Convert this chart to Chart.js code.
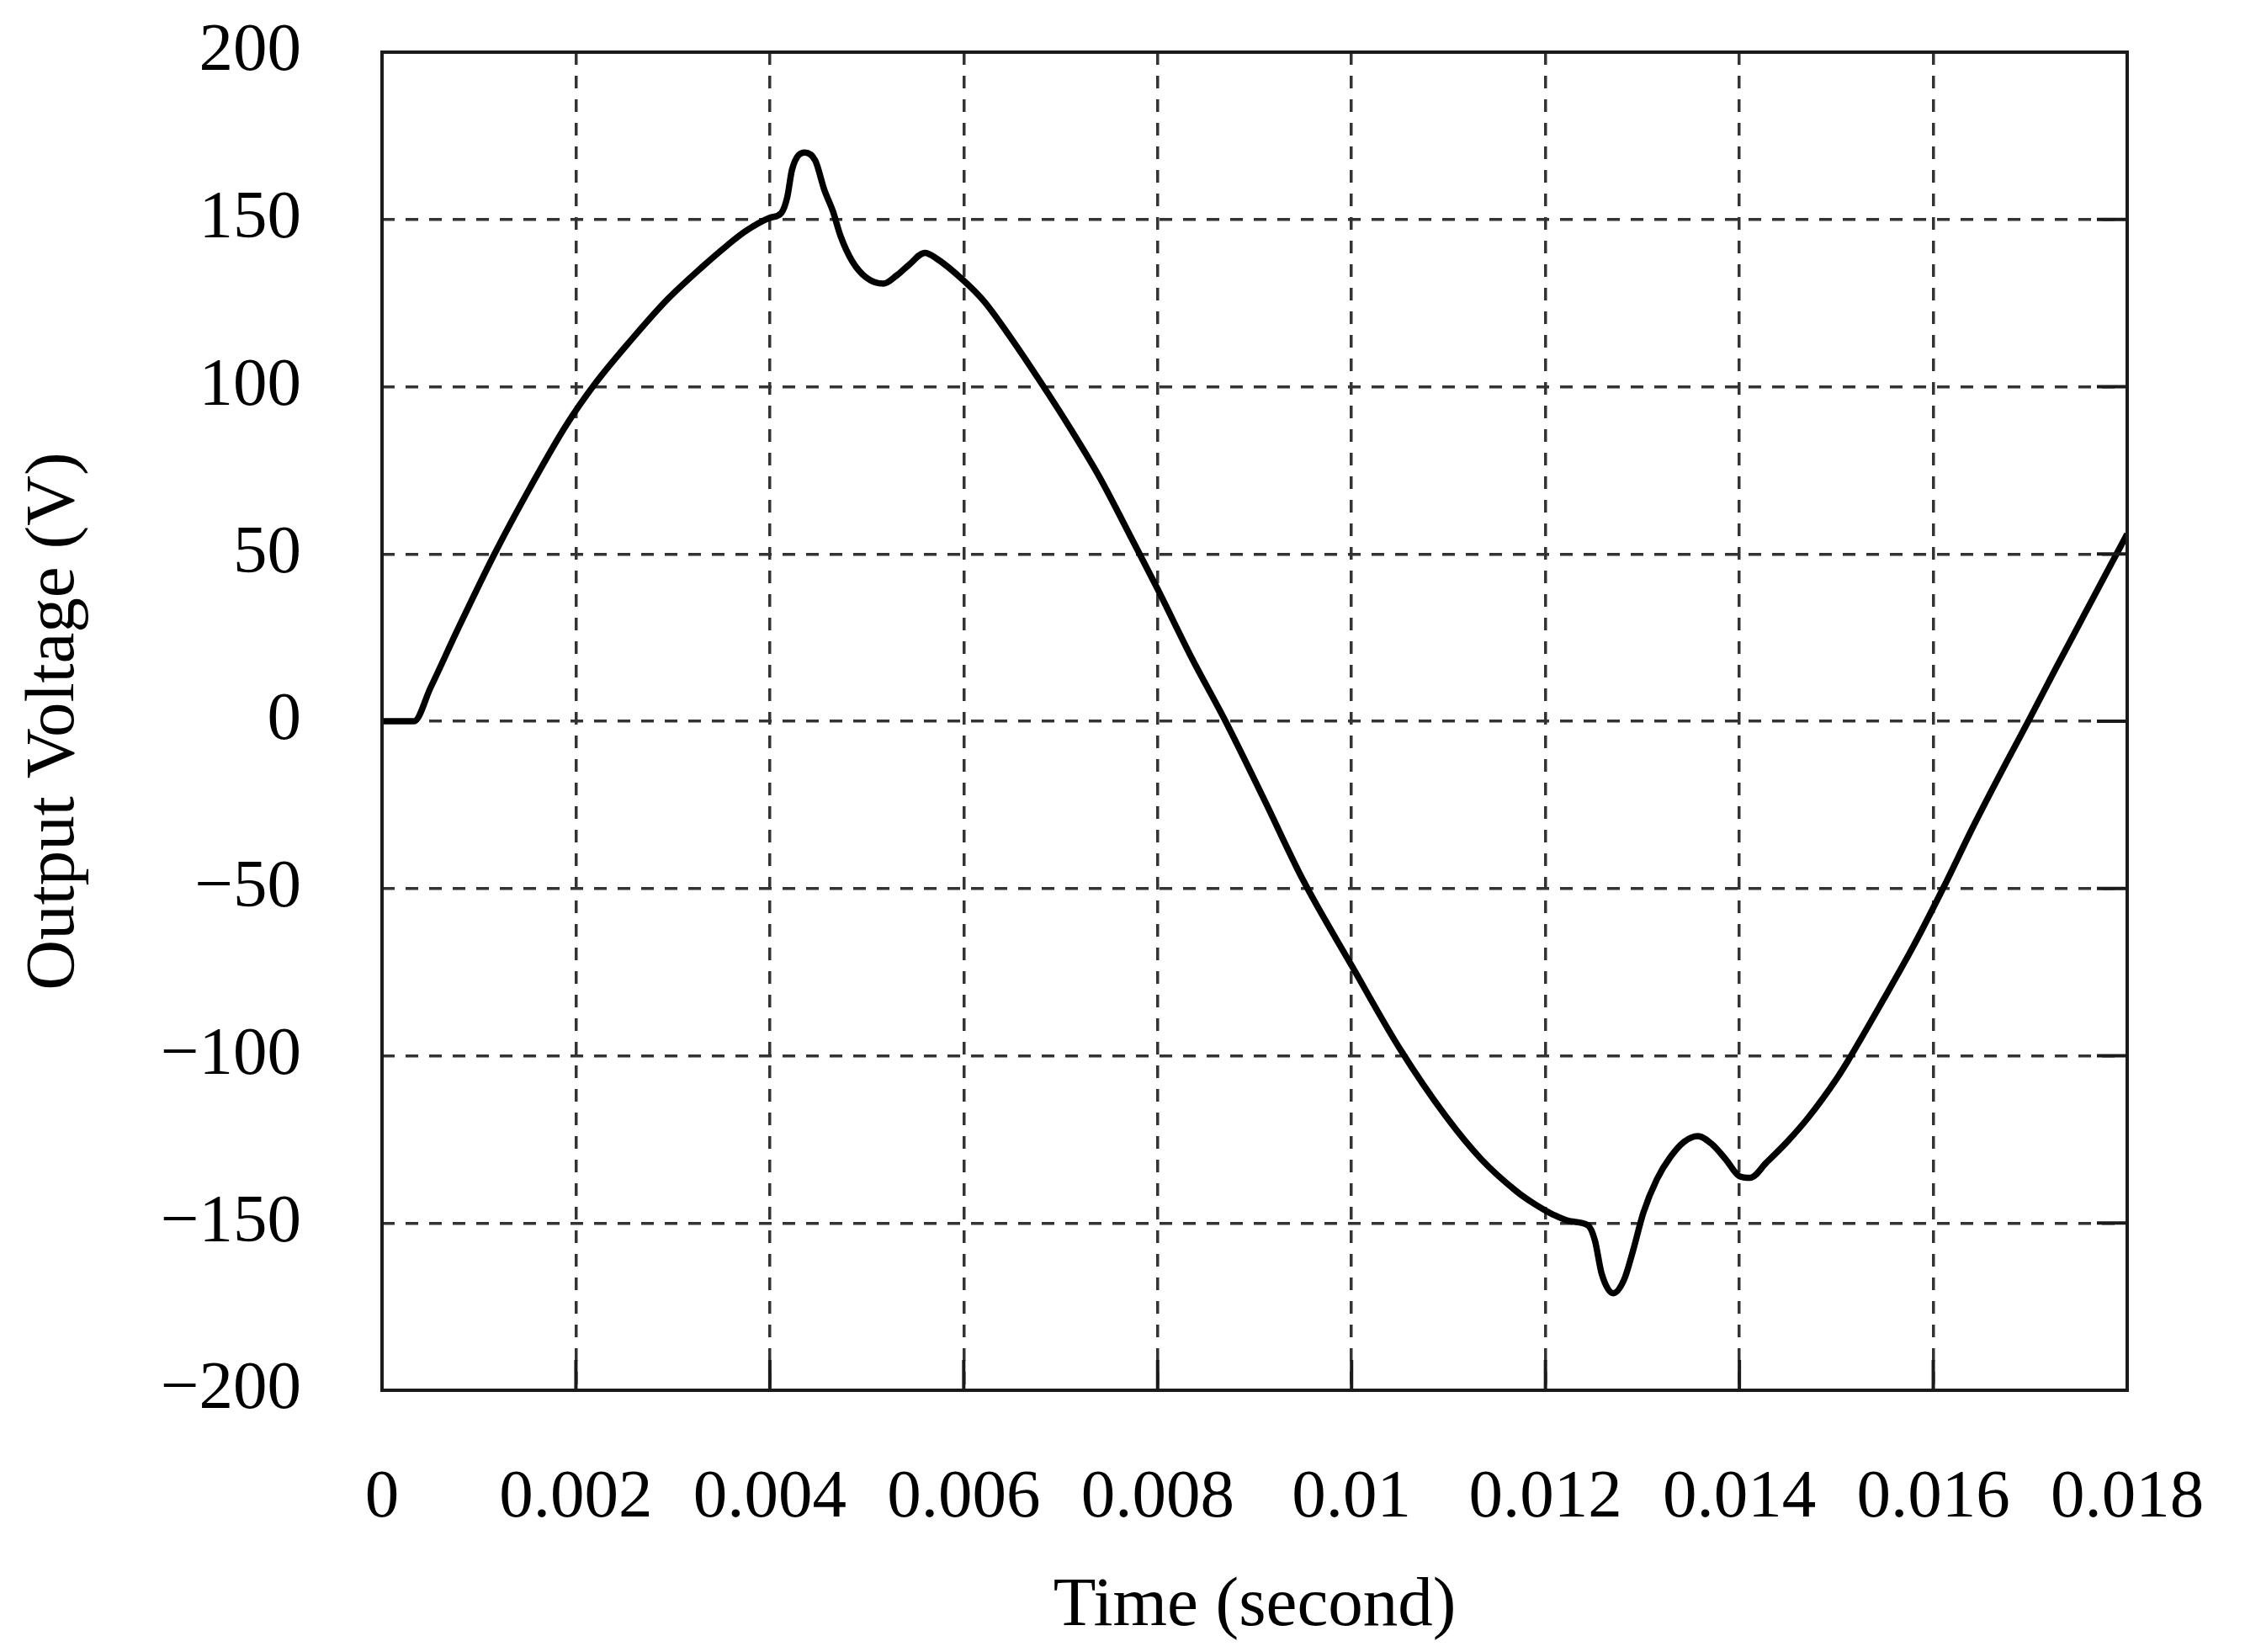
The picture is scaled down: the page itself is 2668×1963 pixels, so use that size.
<!DOCTYPE html>
<html>
<head>
<meta charset="utf-8">
<title>Output Voltage</title>
<script src="https://cdn.jsdelivr.net/npm/chart.js@4.4.1/dist/chart.umd.min.js"></script>
<style>
    html, body { margin: 0; padding: 0; background: #fff; }
    #wrap { width: 2668px; height: 1963px; position: relative; }
</style>
</head>
<body>
<div id="wrap"><canvas id="voltageChart"></canvas></div>
<script>
// time (s) and output voltage (V)
const timeSec = [
    0, 0.00033, 0.0005, 0.00079, 0.00116, 0.00153, 0.0019, 0.0022, 0.00257, 0.00294,
    0.00331, 0.00355, 0.00375, 0.004, 0.00412, 0.00418, 0.00423, 0.00436, 0.00447, 0.00456,
    0.00465, 0.00473, 0.00485, 0.005, 0.00517, 0.00531, 0.00543, 0.0056, 0.00572, 0.006,
    0.00621, 0.0065, 0.00679, 0.0071, 0.0074, 0.00776, 0.008, 0.00835, 0.0087, 0.0091,
    0.0095, 0.01, 0.0105, 0.01097, 0.01134, 0.0117, 0.01187, 0.01208, 0.01226, 0.01244,
    0.01251, 0.01258, 0.0127, 0.01281, 0.0129, 0.01301, 0.01315, 0.01329, 0.01343, 0.01357,
    0.01372, 0.01386, 0.014, 0.01411, 0.01428, 0.0145, 0.01471, 0.015, 0.01512, 0.01549,
    0.01579, 0.0161, 0.01642, 0.01675, 0.01698, 0.01726, 0.01756, 0.01778, 0.018
];
const voltage = [
    0, 0, 10, 28, 50, 70, 88.5, 101, 114, 126,
    136, 142, 146.5, 150.5, 152, 156.7, 165, 170, 167.5, 159,
    152.5, 145, 137.5, 132.5, 130.8, 133.3, 136.3, 140, 138.3, 131.7,
    125.5, 114, 101.5, 87.5, 73, 53, 39.5, 19, 0, -23.5,
    -47.5, -73, -98, -118, -131, -140.5, -144, -147.5, -149.5, -150.7,
    -155.2, -165.2, -171, -167, -158.6, -146.9, -136.9, -130.2, -125.7, -124,
    -126.5, -131, -136, -136.5, -131.9, -125.5, -118.5, -107, -101.5, -83,
    -67.5, -50, -31, -12.5, 0, 15.6, 32, 44, 56
];

const xTicks = [0, 0.002, 0.004, 0.006, 0.008, 0.01, 0.012, 0.014, 0.016, 0.018];
const xTickLabels = ['0', '0.002', '0.004', '0.006', '0.008', '0.01', '0.012', '0.014', '0.016', '0.018'];
const yTicks = [200, 150, 100, 50, 0, -50, -100, -150, -200];
const yTickLabels = ['200', '150', '100', '50', '0', '\u221250', '\u2212100', '\u2212150', '\u2212200'];

const serif = "'Liberation Serif', 'Times New Roman', serif";

// frame round the plot plus inward ticks on bottom and right
const framePlugin = {
    id: 'frame',
    afterDatasetsDraw(chart) {
        const { ctx, chartArea: a, scales } = chart;
        ctx.save();
        ctx.strokeStyle = '#1a1a1a';
        ctx.lineWidth = 4;
        ctx.beginPath();
        xTicks.forEach(v => {
            const px = scales.x.getPixelForValue(v);
            ctx.moveTo(px, a.bottom);
            ctx.lineTo(px, a.bottom - 36);
        });
        yTicks.forEach(v => {
            const py = scales.y.getPixelForValue(v);
            ctx.moveTo(a.right, py);
            ctx.lineTo(a.right - 36, py);
        });
        ctx.stroke();
        ctx.strokeRect(a.left, a.top, a.right - a.left, a.bottom - a.top);
        ctx.restore();
    }
};

new Chart(document.getElementById('voltageChart'), {
    type: 'line',
    data: {
        datasets: [{
            data: timeSec.map((t, i) => ({ x: t, y: voltage[i] })),
            borderColor: '#000',
            borderWidth: 7.5,
            pointRadius: 0,
            cubicInterpolationMode: 'monotone',
            fill: false
        }]
    },
    options: {
        responsive: true,
        maintainAspectRatio: false,
        animation: false,
        devicePixelRatio: 1,
        layout: { padding: { top: 62, right: 140, bottom: 0, left: 0 } },
        plugins: {
            legend: { display: false },
            tooltip: { enabled: false }
        },
        scales: {
            x: {
                type: 'linear',
                min: 0,
                max: 0.018,
                afterBuildTicks: scale => { scale.ticks = xTicks.map(v => ({ value: v })); },
                afterFit: scale => {
                    scale.height = 311;
                    scale.paddingLeft = 0;
                    scale.paddingRight = 0;
                },
                grid: { color: '#333', lineWidth: 3.5, drawTicks: false },
                border: { display: false, dash: [15, 13] },
                ticks: {
                    padding: 80,
                    maxRotation: 0,
                    autoSkip: false,
                    color: '#000',
                    font: { family: serif, size: 81 },
                    callback: (v, i) => xTickLabels[i]
                },
                title: {
                    display: true,
                    text: 'Time (second)',
                    color: '#000',
                    font: { family: serif, size: 83 },
                    padding: { top: 0, bottom: 4 }
                }
            },
            y: {
                min: -200,
                max: 200,
                afterBuildTicks: scale => { scale.ticks = yTicks.map(v => ({ value: v })); },
                afterFit: scale => {
                    scale.width = 454;
                    scale.paddingTop = 0;
                    scale.paddingBottom = 0;
                },
                grid: { color: '#333', lineWidth: 3.5, drawTicks: false },
                border: { display: false, dash: [15, 13] },
                ticks: {
                    padding: 96,
                    autoSkip: false,
                    color: '#000',
                    font: { family: serif, size: 81 },
                    callback: (v, i) => yTickLabels[i]
                },
                title: {
                    display: true,
                    text: 'Output Voltage (V)',
                    color: '#000',
                    font: { family: serif, size: 83 },
                    padding: { top: 15, bottom: 0 }
                }
            }
        }
    },
    plugins: [framePlugin]
});
</script>
</body>
</html>
